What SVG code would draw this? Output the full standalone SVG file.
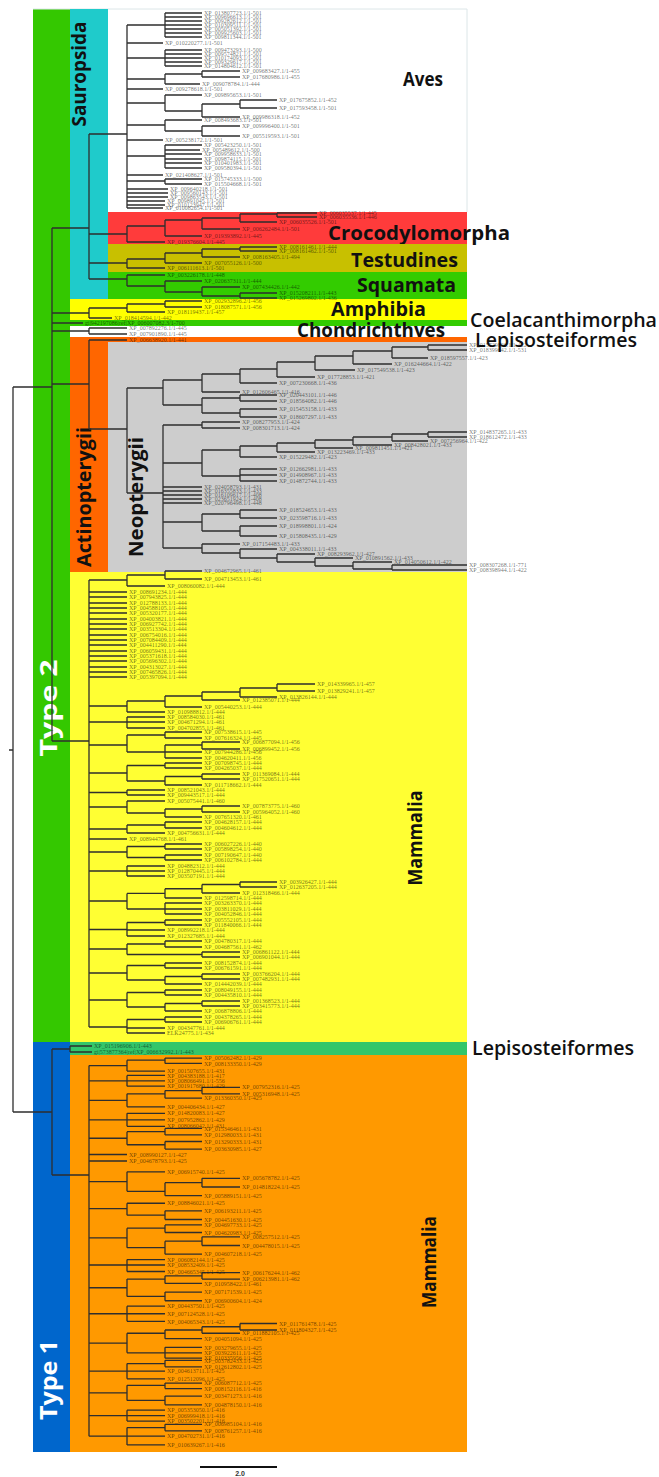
<svg xmlns="http://www.w3.org/2000/svg" width="659" height="1477" viewBox="0 0 659 1477">
<style>
.tr{fill:none;stroke:#2e2e2e;stroke-width:1.3}
.ns{vector-effect:non-scaling-stroke}
.lf{font-family:"Liberation Serif",serif;font-size:6px;fill:#000;fill-opacity:.58}
.cl{font-family:"Open Sans","Liberation Sans",sans-serif;font-weight:700;font-size:19px;fill:#111}
.cm{font-weight:600}
.ty{font-family:"Open Sans","Liberation Sans",sans-serif;font-weight:700;font-size:23px;fill:#fff}
</style>
<rect width="659" height="1477" fill="#fff"/>
<g id="bands">
<rect x="33" y="9" width="37" height="1033" fill="#34c800"/>
<rect x="33" y="1042" width="37" height="410" fill="#0066cc"/>
<path d="M33 9H467V212" fill="none" stroke="#dce6e8" stroke-width="1"/>
</g>
<g id="sauropsida"><rect x="70" y="9" width="38" height="290" fill="#1fcbcb"/>
<text class="cl" text-anchor="middle" textLength="105" lengthAdjust="spacingAndGlyphs" transform="translate(86,74) rotate(-90)">Sauropsida</text></g>
<g id="aves"><text class="cl" x="403" y="86" textLength="40" lengthAdjust="spacingAndGlyphs">Aves</text></g>
<g id="crocodylomorpha"><rect x="108" y="212" width="359" height="32" fill="#ff3b3b"/>
<text class="cl" x="328" y="240" textLength="182" lengthAdjust="spacingAndGlyphs">Crocodylomorpha</text></g>
<g id="testudines"><rect x="108" y="244" width="359" height="28" fill="#c8c000"/>
<text class="cl" x="351" y="267" textLength="107" lengthAdjust="spacingAndGlyphs">Testudines</text></g>
<g id="squamata"><rect x="108" y="272" width="359" height="27" fill="#33cc00"/>
<text class="cl" x="357" y="292" textLength="99" lengthAdjust="spacingAndGlyphs">Squamata</text></g>
<g id="amphibia"><rect x="70" y="299" width="397" height="21" fill="#ffff00"/>
<text class="cl" x="331" y="316" textLength="95" lengthAdjust="spacingAndGlyphs">Amphibia</text></g>
<g id="coelacanthimorpha"><rect x="70" y="320" width="397" height="6" fill="#33cc00"/>
<text class="cl cm" x="470" y="327" textLength="187" lengthAdjust="spacingAndGlyphs">Coelacanthimorpha</text></g>
<g id="chondrichthyes"><text class="cl" x="297" y="337" textLength="148" lengthAdjust="spacingAndGlyphs">Chondrichthyes</text></g>
<g id="lepisosteiformes-1"><rect x="70" y="337" width="397" height="5" fill="#ff6600"/>
<text class="cl cm" x="475" y="347" textLength="162" lengthAdjust="spacingAndGlyphs">Lepisosteiformes</text></g>
<g id="actinopterygii"><rect x="70" y="342" width="38" height="230" fill="#ff6600"/>
<text class="cl" text-anchor="middle" textLength="140" lengthAdjust="spacingAndGlyphs" transform="translate(91,497) rotate(-90)">Actinopterygii</text></g>
<g id="neopterygii"><rect x="108" y="342" width="359" height="230" fill="#cdcdcd"/>
<text class="cl" text-anchor="middle" textLength="120" lengthAdjust="spacingAndGlyphs" transform="translate(143,497) rotate(-90)">Neopterygii</text></g>
<g id="mammalia-2"><rect x="70" y="572" width="397" height="470" fill="#ffff33"/>
<text class="cl" text-anchor="middle" textLength="95" lengthAdjust="spacingAndGlyphs" transform="translate(422,838) rotate(-90)">Mammalia</text></g>
<g id="lepisosteiformes-2"><rect x="70" y="1042" width="397" height="13" fill="#33c66a"/>
<text class="cl cm" x="472" y="1055" textLength="162" lengthAdjust="spacingAndGlyphs">Lepisosteiformes</text></g>
<g id="mammalia-1"><rect x="70" y="1055" width="397" height="397" fill="#ff9900"/>
<text class="cl" text-anchor="middle" textLength="92" lengthAdjust="spacingAndGlyphs" transform="translate(436,1262) rotate(-90)">Mammalia</text></g>
<g id="type-2"><text class="ty" text-anchor="middle" textLength="97" lengthAdjust="spacingAndGlyphs" transform="translate(57,708) rotate(-90)">Type 2</text></g>
<g id="type-1"><text class="ty" text-anchor="middle" textLength="80" lengthAdjust="spacingAndGlyphs" transform="translate(57,1380) rotate(-90)">Type 1</text></g>
<g id="connectors">
<path class="tr" d="M9 750H13M13 387V1112M13 387H52M13 1112H52M52 228V741M52 1049V1175M52 228H89M52 313H89M52 323H83M52 331H89M52 384H89M52 741H89M52 1049H70M70 1046V1052M70 1046H92M70 1052H92M52 1175H89"/>
<path class="tr" d="M89 134V279M89 134H127M127 25V208M127 25H165M165 13V37M165 13H202M165 17H202M165 21H202M165 25H202M165 29H202M165 33H202M165 37H202M127 43H163M127 58H165M165 50V66M165 50H202M165 54H202M165 58H202M165 62H202M165 66H202M127 79H165M165 74V84M165 74H202M202 71V77M202 71H240M202 77H240M165 84H200M127 89H163M127 103H165M165 95V111M165 95H202M165 111H202M202 104V117M202 104H240M240 100V108M240 100H277M240 108H277M202 117H240M127 125H165M165 120V131M165 120H202M165 131H202M202 126V136M202 126H240M202 136H240M127 140H163M127 156H165M165 145V168M165 145H202M165 150H200M165 154H202M165 159H202M165 163H202M165 168H202M127 175H163M127 181H165M165 179V184M165 179H202M165 184H202M127 189H168M127 193H168M127 197H168M127 201H165M127 205H165M127 208H163"/>
<path class="tr" d="M89 234H127M127 226V242M127 242H165M127 226H165M165 220V236M165 236H202M165 220H202M202 218V229M202 229H240M202 218H240M240 214V222M240 222H277M240 214H277M277 213V217M277 213H317M277 217H317M89 263H127M127 259V268M127 268H165M127 259H165M165 253V263M165 263H202M165 253H202M202 249V257M202 257H240M202 249H240M240 247V251M240 247H277M240 251H277M89 279H127M127 275V286M127 275H165M127 286H165M165 281V292M165 281H202M165 292H202M202 287V296M202 287H240M202 296H240M240 293V298M240 293H277M240 298H277"/>
<path class="tr" d="M89 308V318M89 318H112M89 308H127M127 304V312M127 312H165M127 304H165M165 301V307M165 301H202M165 307H202M89 328V334M89 328H127M89 334H127M89 340V429M89 340H127M89 429H127"/>
<path class="tr" d="M127 388V493M127 388H163M163 380V405M163 380H202M202 374V392M202 374H240M240 369V383M240 369H277M277 362V377M277 362H315M315 356V370M315 356H353M353 351V364M353 351H392M392 347V358M392 347H428M428 345V350M428 345H467M428 350H467M392 358H428M353 364H392M315 370H355M277 377H315M240 383H277M202 392H240M163 405H202M202 398V413M202 398H240M240 395V401M240 395H277M240 401H277M202 413H240M240 409V417M240 409H277M240 417H277M127 493H163M163 425V548M163 425H202M202 422V428M202 422H240M202 428H240M163 463H202M202 450V476M202 450H240M240 446V457M240 446H277M277 443V452M277 443H315M315 440V448M315 440H353M353 437V445M353 437H392M392 434V441M392 434H428M428 432V437M428 432H467M428 437H467M392 441H428M353 445H392M315 448H353M277 452H315M240 457H277M202 476H240M240 469V481M240 469H277M240 475H277M240 481H277M163 487H202M163 491H202M163 495H202M163 499H202M163 503H202M163 522H202M202 514V531M202 514H240M240 510V518M240 510H277M240 518H277M202 531H240M240 526V536M240 526H277M240 536H277M163 548H202M202 544V553M202 544H240M202 553H240M240 549V558M240 549H277M240 558H277M277 554V562M277 554H315M277 562H315M315 558V566M315 558H353M315 566H353M353 562V569M353 562H392M353 569H392M392 565V570M392 565H467M392 570H467"/>
<path class="tr" d="M89 580V1027M89 580H127M127 575V586M127 575H165M165 571V579M165 571H202M165 579H202M127 586H165M89 592H127M89 597H127M89 603H127M89 608H127M89 613H127M89 619H127M89 624H127M89 629H127M89 635H127M89 640H127M89 645H127M89 651H127M89 656H127M89 661H127M89 667H127M89 672H127M89 677H127M89 706H127M127 701V712M127 701H165M165 696V707M165 696H202M202 692V700M202 692H240M240 688V697M240 688H277M277 684V691M277 684H315M277 691H315M240 697H277M202 700H240M165 707H202M127 712H165M89 722H127M127 717V728M127 717H165M127 722H165M127 728H165M89 745H127M127 735V752M127 735H165M165 732V738M165 732H202M165 738H202M127 752H165M165 745V758M165 745H202M202 742V749M202 742H240M202 749H240M165 752H202M165 758H202M165 763V768M165 763H202M165 768H202M127 765.5H165M202 774V779M202 774H240M202 779H240M165 776.5V785M165 776.5H202M165 785H202M127 781H165M127 765.5V781M89 773H127M127 790V795M127 790H165M127 795H165M89 792.5H127M127 801H165M202 806V812M202 806H240M202 812H240M165 809V817M165 809H202M165 817H202M127 801V813M127 813H165M89 807H127M165 822V828M165 822H202M165 828H202M127 825V833M127 825H165M127 833H165M89 829H127M89 839H127M165 844V849M165 844H202M165 849H202M165 855V860M165 855H202M165 860H202M127 846.5V857.5M127 846.5H165M127 857.5H165M89 852H127M127 866V876M127 866H165M127 871H165M127 876H165M89 871H127M240 882V887M240 882H277M240 887H277M202 884.5V893M202 884.5H240M202 893H240M165 888.75V898M165 888.75H202M165 898H202M165 903V914M165 903H202M165 909H202M165 914H202M127 893.4V909M127 893.4H165M127 909H165M89 901H127M165 920V925M165 920H202M165 925H202M127 922.5V936M127 922.5H165M127 930H165M127 936H165M89 929.5H127M127 944H165M165 941V947M165 941H202M165 947H202M127 954.5H202M202 952V957M202 952H240M202 957H240M127 944V954.5M89 949H127M165 963V968M165 963H202M165 968H202M202 974V979M202 974H240M202 979H240M165 976.5V984M165 976.5H202M165 984H202M127 965.5V980M127 965.5H165M127 980H165M89 973H127M165 990V995M165 990H202M165 995H202M202 1001V1006M202 1001H240M202 1006H240M165 1003.5V1011M165 1003.5H202M165 1011H202M127 992.5V1007M127 992.5H165M127 1007H165M89 1000H127M165 1017V1022M165 1017H202M165 1022H202M127 1019.5V1033M127 1019.5H165M127 1028H165M127 1033H165M89 1027H127"/>
<g transform="matrix(1 0 0 1.0836 0 -115.5)">
<path class="tr ns" d="M89 1090V1432M89 1090H127M127 1085V1095M127 1085H165M165 1083V1088M165 1083H202M165 1088H202M127 1095H165M89 1104H127M127 1099V1109M127 1099H165M127 1104H165M127 1109H165M89 1122H127M127 1116V1128M127 1116H165M165 1113V1120M165 1113H202M202 1110V1116M202 1110H240M202 1116H240M165 1120H202M127 1128H165M89 1140H127M127 1134V1146M127 1134H165M127 1140H165M127 1146H165M89 1157H127M127 1151V1163M127 1151H165M165 1148V1154M165 1148H202M165 1154H202M127 1163H165M165 1160V1167M165 1160H202M165 1167H202M89 1172H127M89 1178H127M89 1197H127M127 1188V1206M127 1188H165M127 1206H165M165 1198V1210M165 1198H202M202 1194V1202M202 1194H240M202 1202H240M165 1210H202M89 1222H127M127 1217V1228M127 1217H165M127 1228H165M165 1224V1232M165 1224H202M165 1232H202M89 1249H127M127 1240V1258M127 1240H165M165 1237V1244M165 1237H202M165 1244H202M127 1258H165M165 1252V1264M165 1252H202M202 1248V1256M202 1248H240M202 1256H240M165 1264H202M89 1274H127M127 1269V1280M127 1269H165M127 1274H165M127 1280H165M89 1295H127M127 1287V1303M127 1287H165M165 1284V1291M165 1284H202M202 1281V1287M202 1281H240M202 1287H240M165 1291H202M127 1303H165M165 1299V1307M165 1299H202M165 1307H202M89 1319H127M127 1312V1326M127 1312H165M127 1319H165M127 1326H165M89 1346H127M127 1337V1355M127 1337H165M165 1334V1342M165 1334H202M202 1331V1337M202 1331H240M240 1328V1334M240 1328H277M240 1334H277M202 1337H240M165 1342H202M127 1355H165M165 1350V1360M165 1350H202M165 1355H202M165 1360H202M89 1372H127M127 1365V1379M127 1365H165M165 1362V1368M165 1362H202M165 1368H202M127 1372H165M127 1379H165M89 1392H127M127 1385V1399M127 1385H165M165 1383V1388M165 1383H202M165 1388H202M127 1399H165M165 1395V1403M165 1395H202M165 1403H202M89 1413H127M127 1408V1418M127 1408H165M127 1413H165M127 1418H165M89 1432H127M127 1424V1440M127 1424H165M165 1421V1427M165 1421H202M165 1427H202M127 1432H165M127 1440H165"/>
</g>
</g>
<g id="leaf-labels">
<text class="lf"><tspan x="204" y="15">XP_013807723.1/1-501</tspan><tspan x="204" y="19">XP_009696613.1/1-501</tspan><tspan x="204" y="23">XP_009282612.1/1-501</tspan><tspan x="204" y="27">XP_010309511.1/1-501</tspan><tspan x="204" y="31">XP_005051392.1/1-501</tspan><tspan x="204" y="35">XP_009925603.1/1-501</tspan><tspan x="204" y="39">XP_009811344.1/1-501</tspan><tspan x="165" y="45">XP_010220277.1/1-501</tspan><tspan x="204" y="52">XP_009473293.1/1-500</tspan><tspan x="204" y="56">XP_009574821.1/1-501</tspan><tspan x="204" y="60">XP_010174093.1/1-501</tspan><tspan x="204" y="64">XP_009329617.1/1-501</tspan><tspan x="204" y="68">XP_014804612.1/1-501</tspan><tspan x="242" y="73">XP_009683427.1/1-455</tspan><tspan x="242" y="79">XP_017680986.1/1-455</tspan><tspan x="202" y="86">XP_009078784.1/1-444</tspan><tspan x="165" y="91">XP_009278618.1/1-501</tspan><tspan x="204" y="97">XP_009895653.1/1-501</tspan><tspan x="279" y="102">XP_017675852.1/1-452</tspan><tspan x="279" y="110">XP_017593458.1/1-501</tspan><tspan x="242" y="119">XP_009986318.1/1-452</tspan><tspan x="204" y="122">XP_008493683.1/1-501</tspan><tspan x="242" y="128">XP_009996400.1/1-501</tspan><tspan x="242" y="138">XP_005519593.1/1-501</tspan><tspan x="165" y="142">XP_005238172.1/1-501</tspan><tspan x="204" y="147">XP_005423250.1/1-501</tspan><tspan x="202" y="152">XP_005489612.1/1-500</tspan><tspan x="204" y="156">XP_009958633.1/1-501</tspan><tspan x="204" y="161">XP_009874115.1/1-501</tspan><tspan x="204" y="165">XP_010401983.1/1-501</tspan><tspan x="204" y="170">XP_009580394.1/1-501</tspan><tspan x="165" y="177">XP_021408627.1/1-501</tspan><tspan x="204" y="181">XP_015745333.1/1-500</tspan><tspan x="204" y="186">XP_015504668.1/1-501</tspan><tspan x="170" y="191">XP_009640218.1/1-501</tspan><tspan x="170" y="195">XP_009560143.1/1-501</tspan><tspan x="170" y="199">XP_009863543.1/1-501</tspan><tspan x="167" y="203">XP_009891045.1/1-501</tspan><tspan x="167" y="207">XP_010123947.1/1-501</tspan><tspan x="165" y="210">XP_010082654.1/1-501</tspan></text>
<text class="lf"><tspan x="167" y="244">XP_019376604.1/1-445</tspan><tspan x="204" y="238">XP_019393892.1/1-445</tspan><tspan x="242" y="231">XP_006262484.1/1-501</tspan><tspan x="279" y="224">XP_006035526.1/1-501</tspan><tspan x="319" y="215">XP_006035537.1/1-445</tspan><tspan x="319" y="219">XP_006035536.1/1-446</tspan><tspan x="167" y="270">XP_006111613.1/1-501</tspan><tspan x="204" y="265">XP_007055126.1/1-500</tspan><tspan x="242" y="259">XP_008163405.1/1-494</tspan><tspan x="279" y="249">XP_008161461.1/1-444</tspan><tspan x="279" y="253">XP_008161462.1/1-501</tspan><tspan x="167" y="277">XP_003226178.1/1-448</tspan><tspan x="204" y="283">XP_020637311.1/1-444</tspan><tspan x="242" y="289">XP_007434426.1/1-442</tspan><tspan x="279" y="295">XP_015208211.1/1-443</tspan><tspan x="279" y="300">XP_015269802.1/1-436</tspan><tspan x="114" y="320">XP_018414594.1/1-442</tspan><tspan x="167" y="314">XP_018119437.1/1-457</tspan><tspan x="204" y="303">XP_002932896.2/1-456</tspan><tspan x="204" y="309">XP_018087571.1/1-456</tspan><tspan x="85" y="325">gi|942197086|ref|XP_006007082.3/1-700</tspan><tspan x="129" y="330">XP_007892276.1/1-445</tspan><tspan x="129" y="336">XP_007901890.1/1-445</tspan><tspan x="129" y="342">XP_006638920.1/1-441</tspan></text>
<text class="lf"><tspan x="469" y="347">XP_015729826.1/1-422</tspan><tspan x="469" y="352">XP_018399642.1/1-531</tspan><tspan x="430" y="360">XP_018597557.1/1-423</tspan><tspan x="394" y="366">XP_016244664.1/1-422</tspan><tspan x="357" y="372">XP_017549538.1/1-423</tspan><tspan x="317" y="379">XP_017728853.1/1-421</tspan><tspan x="279" y="385">XP_007230668.1/1-436</tspan><tspan x="242" y="394">XP_012606465.1/1-416</tspan><tspan x="279" y="397">XP_020443101.1/1-446</tspan><tspan x="279" y="403">XP_018564082.1/1-446</tspan><tspan x="279" y="411">XP_015453158.1/1-433</tspan><tspan x="279" y="419">XP_018607297.1/1-433</tspan><tspan x="242" y="424">XP_008277953.1/1-424</tspan><tspan x="242" y="430">XP_008301713.1/1-424</tspan><tspan x="469" y="434">XP_014837265.1/1-433</tspan><tspan x="469" y="439">XP_018612472.1/1-433</tspan><tspan x="430" y="443">XP_007256964.1/1-422</tspan><tspan x="394" y="447">XP_008428021.1/1-433</tspan><tspan x="355" y="450">XP_009811451.1/1-421</tspan><tspan x="317" y="454">XP_013223469.1/1-433</tspan><tspan x="279" y="459">XP_015229482.1/1-423</tspan><tspan x="279" y="471">XP_012662981.1/1-433</tspan><tspan x="279" y="477">XP_014908967.1/1-433</tspan><tspan x="279" y="483">XP_014872744.1/1-433</tspan><tspan x="204" y="489">XP_024058793.1/1-431</tspan><tspan x="204" y="493">XP_016355833.1/1-433</tspan><tspan x="204" y="497">XP_016109617.1/1-408</tspan><tspan x="204" y="501">XP_023651924.1/1-408</tspan><tspan x="204" y="505">XP_020796498.1/1-448</tspan><tspan x="279" y="512">XP_018524653.1/1-433</tspan><tspan x="279" y="520">XP_023598716.1/1-433</tspan><tspan x="279" y="528">XP_018998801.1/1-424</tspan><tspan x="279" y="538">XP_015808435.1/1-429</tspan><tspan x="242" y="546">XP_017154483.1/1-433</tspan><tspan x="279" y="551">XP_004338011.1/1-433</tspan><tspan x="317" y="556">XP_008293962.1/1-427</tspan><tspan x="355" y="560">XP_010891562.1/1-433</tspan><tspan x="394" y="564">XP_014050612.1/1-422</tspan><tspan x="469" y="567">XP_008307268.1/1-771</tspan><tspan x="469" y="572">XP_008398944.1/1-422</tspan></text>
<text class="lf"><tspan x="204" y="573">XP_004672965.1/1-461</tspan><tspan x="204" y="581">XP_004713453.1/1-461</tspan><tspan x="167" y="588">XP_008060082.1/1-444</tspan><tspan x="129" y="594">XP_008691234.1/1-444</tspan><tspan x="129" y="599">XP_007943825.1/1-444</tspan><tspan x="129" y="605">XP_012788133.1/1-444</tspan><tspan x="129" y="610">XP_004588105.1/1-444</tspan><tspan x="129" y="615">XP_005320177.1/1-444</tspan><tspan x="129" y="621">XP_004003821.1/1-444</tspan><tspan x="129" y="626">XP_006927742.1/1-444</tspan><tspan x="129" y="631">XP_003513304.1/1-444</tspan><tspan x="129" y="637">XP_006754016.1/1-444</tspan><tspan x="129" y="642">XP_007084409.1/1-444</tspan><tspan x="129" y="647">XP_004411290.1/1-444</tspan><tspan x="129" y="653">XP_006059431.1/1-444</tspan><tspan x="129" y="658">XP_005371618.1/1-444</tspan><tspan x="129" y="663">XP_005696302.1/1-444</tspan><tspan x="129" y="669">XP_004313027.1/1-444</tspan><tspan x="129" y="674">XP_007465826.1/1-444</tspan><tspan x="129" y="679">XP_005397094.1/1-444</tspan><tspan x="317" y="686">XP_014339965.1/1-457</tspan><tspan x="317" y="693">XP_013829241.1/1-457</tspan><tspan x="279" y="699">XP_013826144.1/1-444</tspan><tspan x="242" y="702">XP_012385071.1/1-444</tspan><tspan x="204" y="709">XP_005440253.1/1-444</tspan><tspan x="167" y="714">XP_010988812.1/1-444</tspan><tspan x="167" y="719">XP_008584030.1/1-461</tspan><tspan x="167" y="724">XP_004671294.1/1-461</tspan><tspan x="167" y="730">XP_004702855.1/1-461</tspan><tspan x="204" y="734">XP_007538615.1/1-445</tspan><tspan x="204" y="740">XP_007616324.1/1-445</tspan><tspan x="242" y="744">XP_006877094.1/1-456</tspan><tspan x="242" y="751">XP_006899452.1/1-456</tspan><tspan x="204" y="754">XP_007944286.1/1-456</tspan><tspan x="204" y="760">XP_004620411.1/1-456</tspan><tspan x="204" y="765">XP_007098745.1/1-444</tspan><tspan x="204" y="770">XP_004265037.1/1-444</tspan><tspan x="242" y="776">XP_011369084.1/1-444</tspan><tspan x="242" y="781">XP_017520651.1/1-444</tspan><tspan x="204" y="787">XP_011718662.1/1-444</tspan><tspan x="167" y="792">XP_008521043.1/1-444</tspan><tspan x="167" y="797">XP_009443517.1/1-444</tspan><tspan x="167" y="803">XP_005075441.1/1-460</tspan><tspan x="242" y="808">XP_007873775.1/1-460</tspan><tspan x="242" y="814">XP_005964052.1/1-460</tspan><tspan x="204" y="819">XP_007651320.1/1-461</tspan><tspan x="204" y="824">XP_004628157.1/1-444</tspan><tspan x="204" y="830">XP_004604612.1/1-444</tspan><tspan x="167" y="835">XP_004756631.1/1-444</tspan><tspan x="129" y="841">XP_008944768.1/1-461</tspan><tspan x="204" y="846">XP_006027226.1/1-440</tspan><tspan x="204" y="851">XP_005898254.1/1-440</tspan><tspan x="204" y="857">XP_007190647.1/1-440</tspan><tspan x="204" y="862">XP_006102784.1/1-444</tspan><tspan x="167" y="868">XP_004882312.1/1-444</tspan><tspan x="167" y="873">XP_012870445.1/1-444</tspan><tspan x="167" y="878">XP_003507191.1/1-444</tspan><tspan x="279" y="884">XP_003926427.1/1-444</tspan><tspan x="279" y="889">XP_012637205.1/1-444</tspan><tspan x="242" y="895">XP_012318466.1/1-444</tspan><tspan x="204" y="900">XP_012598714.1/1-444</tspan><tspan x="204" y="905">XP_003263370.1/1-444</tspan><tspan x="204" y="911">XP_003811029.1/1-444</tspan><tspan x="204" y="916">XP_004052846.1/1-444</tspan><tspan x="204" y="922">XP_005552105.1/1-444</tspan><tspan x="204" y="927">XP_011840066.1/1-444</tspan><tspan x="167" y="932">XP_008992218.1/1-444</tspan><tspan x="167" y="938">XP_012327685.1/1-444</tspan><tspan x="204" y="943">XP_004780317.1/1-444</tspan><tspan x="204" y="949">XP_004687561.1/1-462</tspan><tspan x="242" y="954">XP_006861122.1/1-444</tspan><tspan x="242" y="959">XP_006901044.1/1-444</tspan><tspan x="204" y="965">XP_008152874.1/1-444</tspan><tspan x="204" y="970">XP_006761591.1/1-444</tspan><tspan x="242" y="976">XP_003766204.1/1-444</tspan><tspan x="242" y="981">XP_007482931.1/1-444</tspan><tspan x="204" y="986">XP_014442039.1/1-444</tspan><tspan x="204" y="992">XP_008049155.1/1-444</tspan><tspan x="204" y="997">XP_004435810.1/1-444</tspan><tspan x="242" y="1003">XP_001368523.1/1-444</tspan><tspan x="242" y="1008">XP_003415773.1/1-444</tspan><tspan x="204" y="1013">XP_006878806.1/1-444</tspan><tspan x="204" y="1019">XP_004378265.1/1-444</tspan><tspan x="204" y="1024">XP_006906761.1/1-444</tspan><tspan x="167" y="1030">XP_004347761.1/1-444</tspan><tspan x="167" y="1035">ELK24775.1/1-434</tspan></text>
<text class="lf"><tspan x="94" y="1048">XP_015196906.1/1-443</tspan><tspan x="94" y="1054">gi|573877364|ref|XP_006632992.1/1-443</tspan></text>
<text class="lf"><tspan x="204" y="1060.2">XP_005062482.1/1-429</tspan><tspan x="204" y="1065.6">XP_008133350.1/1-429</tspan><tspan x="167" y="1073.2">XP_001507655.1/1-431</tspan><tspan x="167" y="1077.5">XP_004383188.1/1-417</tspan><tspan x="167" y="1082.9">XP_008066491.1/1-556</tspan><tspan x="167" y="1088.3">XP_001917680.1/1-429</tspan><tspan x="242" y="1089.4">XP_007952316.1/1-425</tspan><tspan x="242" y="1095.9">XP_005316948.1/1-425</tspan><tspan x="204" y="1100.3">XP_013360350.1/1-425</tspan><tspan x="167" y="1108.9">XP_004406434.1/1-427</tspan><tspan x="167" y="1115.4">XP_014820083.1/1-427</tspan><tspan x="167" y="1121.9">XP_007952862.1/1-429</tspan><tspan x="167" y="1128.4">XP_008066042.1/1-431</tspan><tspan x="204" y="1130.6">XP_015346461.1/1-431</tspan><tspan x="204" y="1137.1">XP_012980033.1/1-431</tspan><tspan x="204" y="1143.6">XP_013290333.1/1-431</tspan><tspan x="204" y="1151.2">XP_003630985.1/1-427</tspan><tspan x="129" y="1156.6">XP_008990127.1/1-427</tspan><tspan x="129" y="1163.1">XP_004678793.1/1-425</tspan><tspan x="167" y="1173.9">XP_006915740.1/1-425</tspan><tspan x="242" y="1180.4">XP_005678782.1/1-425</tspan><tspan x="242" y="1189.1">XP_014818224.1/1-425</tspan><tspan x="204" y="1197.8">XP_005889151.1/1-425</tspan><tspan x="167" y="1205.4">XP_008846021.1/1-425</tspan><tspan x="204" y="1213">XP_006193211.1/1-425</tspan><tspan x="204" y="1221.6">XP_004451630.1/1-425</tspan><tspan x="204" y="1227">XP_004697733.1/1-425</tspan><tspan x="204" y="1234.6">XP_004620983.1/1-425</tspan><tspan x="242" y="1239">XP_008257512.1/1-425</tspan><tspan x="242" y="1247.6">XP_004478015.1/1-425</tspan><tspan x="204" y="1256.3">XP_004607218.1/1-425</tspan><tspan x="167" y="1261.7">XP_006082144.1/1-425</tspan><tspan x="167" y="1267.1">XP_008532409.1/1-425</tspan><tspan x="167" y="1273.6">XP_004665345.1/1-425</tspan><tspan x="242" y="1274.7">XP_006176244.1/1-462</tspan><tspan x="242" y="1281.2">XP_006213981.1/1-462</tspan><tspan x="204" y="1285.6">XP_010958422.1/1-461</tspan><tspan x="204" y="1294.2">XP_007171539.1/1-425</tspan><tspan x="204" y="1302.9">XP_006900604.1/1-424</tspan><tspan x="167" y="1308.3">XP_004437501.1/1-425</tspan><tspan x="167" y="1315.9">XP_007124528.1/1-425</tspan><tspan x="167" y="1323.5">XP_004065343.1/1-425</tspan><tspan x="279" y="1325.6">XP_011761478.1/1-425</tspan><tspan x="279" y="1332.2">XP_011804327.1/1-425</tspan><tspan x="242" y="1335.4">XP_011882105.1/1-425</tspan><tspan x="204" y="1340.8">XP_004051094.1/1-425</tspan><tspan x="204" y="1349.5">XP_003279655.1/1-425</tspan><tspan x="204" y="1354.9">XP_003922611.1/1-425</tspan><tspan x="204" y="1360.3">XP_010335956.1/1-425</tspan><tspan x="204" y="1362.5">XP_003782433.1/1-425</tspan><tspan x="204" y="1369">XP_012612802.1/1-425</tspan><tspan x="167" y="1373.3">XP_004613711.1/1-425</tspan><tspan x="167" y="1380.9">XP_012512096.1/1-425</tspan><tspan x="204" y="1385.2">XP_006087712.1/1-425</tspan><tspan x="204" y="1390.7">XP_008152116.1/1-416</tspan><tspan x="204" y="1398.3">XP_003471273.1/1-416</tspan><tspan x="204" y="1406.9">XP_004878150.1/1-416</tspan><tspan x="167" y="1412.3">XP_005353050.1/1-416</tspan><tspan x="167" y="1417.8">XP_006999418.1/1-416</tspan><tspan x="167" y="1423.2">XP_003502201.1/1-416</tspan><tspan x="204" y="1426.4">XP_006985104.1/1-416</tspan><tspan x="204" y="1432.9">XP_008761257.1/1-416</tspan><tspan x="167" y="1438.3">XP_004702731.1/1-416</tspan><tspan x="167" y="1447">XP_010639267.1/1-416</tspan></text>
</g>
<g id="scale-bar">
<path d="M200 1467H277" stroke="#111" stroke-width="2"/>
<text x="240" y="1476" text-anchor="middle" style="font-family:'Liberation Sans',sans-serif;font-weight:700;font-size:7px;fill:#333">2.0</text>
</g>
</svg>
